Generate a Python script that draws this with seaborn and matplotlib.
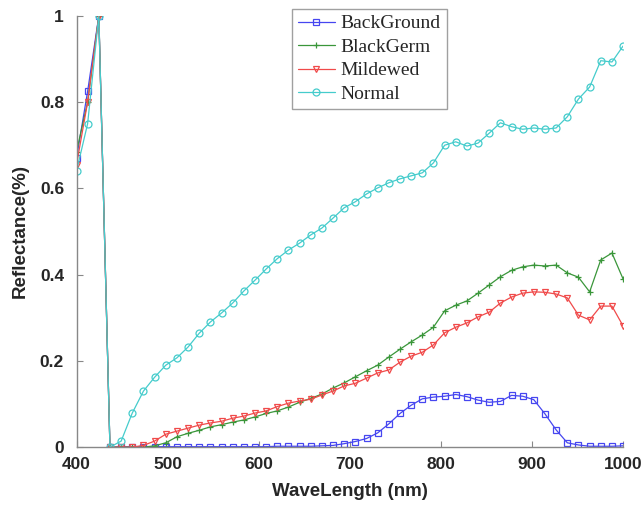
import numpy as np
import pandas as pd
import matplotlib
matplotlib.use("Agg")
import matplotlib.pyplot as plt
import seaborn as sns

# band centres (nm), 50 bands from 400 to 1000
wavelength = [400.0, 412.2, 424.5, 436.7, 449.0, 461.2, 473.5, 485.7, 498.0, 510.2,
              522.4, 534.7, 546.9, 559.2, 571.4, 583.7, 595.9, 608.2, 620.4, 632.7,
              644.9, 657.1, 669.4, 681.6, 693.9, 706.1, 718.4, 730.6, 742.9, 755.1,
              767.3, 779.6, 791.8, 804.1, 816.3, 828.6, 840.8, 853.1, 865.3, 877.6,
              889.8, 902.0, 914.3, 926.5, 938.8, 951.0, 963.3, 975.5, 987.8, 1000.0]

background = [0.67, 0.825, 1.0, 0.0, 0.001, 0.001, 0.001, 0.001, 0.001, 0.001,
              0.001, 0.001, 0.001, 0.001, 0.001, 0.001, 0.001, 0.001, 0.002, 0.002,
              0.002, 0.002, 0.003, 0.004, 0.008, 0.013, 0.02, 0.033, 0.054, 0.078,
              0.097, 0.112, 0.116, 0.118, 0.122, 0.117, 0.109, 0.104, 0.106, 0.12,
              0.118, 0.11, 0.077, 0.04, 0.01, 0.005, 0.002, 0.002, 0.002, 0.003]

blackgerm = [0.685, 0.80, 1.0, 0.0, 0.0, 0.0, 0.0, 0.003, 0.01, 0.024,
             0.032, 0.039, 0.047, 0.052, 0.058, 0.063, 0.07, 0.078, 0.084, 0.093,
             0.104, 0.113, 0.123, 0.137, 0.149, 0.163, 0.177, 0.19, 0.209, 0.227,
             0.244, 0.26, 0.278, 0.316, 0.329, 0.339, 0.357, 0.376, 0.395, 0.41,
             0.418, 0.422, 0.42, 0.422, 0.404, 0.394, 0.36, 0.434, 0.45, 0.39]

mildewed = [0.655, 0.80, 1.0, 0.0, 0.0, 0.0, 0.004, 0.014, 0.03, 0.037,
            0.044, 0.051, 0.056, 0.06, 0.067, 0.072, 0.079, 0.084, 0.094, 0.102,
            0.107, 0.111, 0.121, 0.13, 0.142, 0.148, 0.16, 0.172, 0.179, 0.197,
            0.211, 0.22, 0.237, 0.265, 0.278, 0.288, 0.302, 0.313, 0.334, 0.348,
            0.357, 0.36, 0.359, 0.355, 0.346, 0.306, 0.295, 0.327, 0.327, 0.281]

normal = [0.64, 0.75, 1.0, 0.0, 0.014, 0.079, 0.13, 0.162, 0.19, 0.207,
          0.232, 0.264, 0.29, 0.311, 0.334, 0.362, 0.387, 0.413, 0.437, 0.457,
          0.473, 0.492, 0.508, 0.531, 0.555, 0.569, 0.587, 0.601, 0.613, 0.622,
          0.629, 0.636, 0.659, 0.70, 0.708, 0.698, 0.705, 0.728, 0.752, 0.743,
          0.737, 0.74, 0.737, 0.74, 0.766, 0.807, 0.835, 0.896, 0.893, 0.93]

series = {
    "BackGround": (background, "#4646f0", "s"),
    "BlackGerm": (blackgerm, "#3a963a", "+"),
    "Mildewed": (mildewed, "#f04a4a", "v"),
    "Normal": (normal, "#45cccc", "o"),
}

sns.set_style("ticks")
fig = plt.figure(figsize=(6.43, 5.11), dpi=100)
ax = fig.add_axes([0.119, 0.125, 0.85, 0.844])

for name, (vals, col, mk) in series.items():
    sns.lineplot(x=wavelength, y=vals, ax=ax, color=col, marker=mk, label=name,
                 markerfacecolor="none", markeredgecolor=col, markersize=5,
                 markeredgewidth=0.9, linewidth=0.9, sort=False)

ax.set_xlim(400, 1000)
ax.set_ylim(0, 1)
ax.set_xticks([400, 500, 600, 700, 800, 900, 1000])
ax.set_yticks([0, 0.2, 0.4, 0.6, 0.8, 1.0])
ax.set_yticklabels(["0", "0.2", "0.4", "0.6", "0.8", "1"])
ax.tick_params(direction="in", length=4, color="#888888", labelsize=12.5)
ax.tick_params(axis="x", pad=7)
ax.tick_params(axis="y", pad=9)
for lab in ax.get_xticklabels() + ax.get_yticklabels():
    lab.set_fontfamily("Liberation Sans")
    lab.set_fontweight("bold")
sns.despine(ax=ax)
for s in ["left", "bottom"]:
    ax.spines[s].set_color("#888888")
    ax.spines[s].set_linewidth(1.0)

ax.set_xlabel("WaveLength (nm)", fontsize=13.5, fontweight="bold",
              family="Liberation Sans", labelpad=8)
ax.set_ylabel("Reflectance(%)", fontsize=13.5, fontweight="bold",
              family="Liberation Sans", labelpad=8)

leg = ax.legend(loc="upper left", bbox_to_anchor=(292 / 643, 1 - 9 / 511),
                bbox_transform=fig.transFigure, borderaxespad=0, frameon=True,
                fancybox=False, edgecolor="#888888",
                prop={"family": "Liberation Serif", "size": 14},
                handlelength=1.9, borderpad=0.3, labelspacing=0.3, handletextpad=0.3)
leg.get_frame().set_linewidth(1.0)

fig.savefig("out.png", dpi=100)
